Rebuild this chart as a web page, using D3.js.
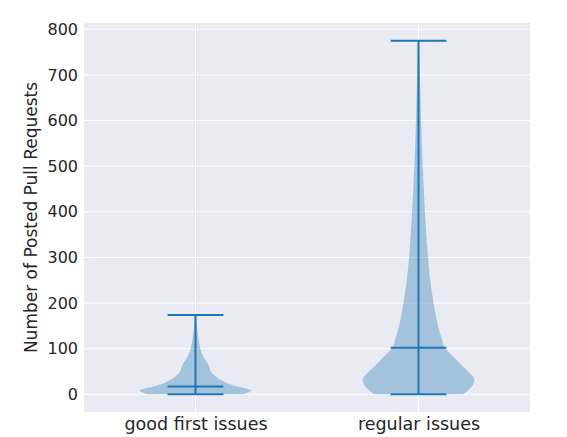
<!DOCTYPE html>
<html><head><meta charset="utf-8">
<script src="https://cdn.jsdelivr.net/npm/d3@7"></script>
<style>body{margin:0;background:#fff;} svg{display:block;}</style>
</head><body>
<svg id="chart" width="567" height="437"></svg>
<script>
const categories = ["good first issues", "regular issues"];
const yTicks = [0, 100, 200, 300, 400, 500, 600, 700, 800];
const yLabel = "Number of Posted Pull Requests";
// summary stats: min, median, max
const mins = [0, 0];
const medians = [17, 102];
const maxs = [174, 775];
// violin density profiles (value, relative half-width)
const goodFirstValues = [0, 5, 9, 13, 17, 22, 27, 33, 40, 47, 55, 66, 77, 88, 99, 110, 121, 135, 150, 165, 174];
const goodFirstDensity = [0.84, 0.97, 1.0, 0.9, 0.75, 0.62, 0.52, 0.43, 0.35, 0.29, 0.26, 0.23, 0.17, 0.12, 0.09, 0.07, 0.054, 0.04, 0.025, 0.015, 0.01];
const regularValues = [0, 10, 20, 33, 45, 55, 65, 77, 90, 102, 120, 136, 160, 200, 250, 300, 350, 400, 500, 600, 700, 775];
const regularDensity = [0.8, 0.9, 0.97, 1.0, 0.93, 0.85, 0.76, 0.67, 0.56, 0.47, 0.42, 0.38, 0.33, 0.27, 0.21, 0.17, 0.14, 0.115, 0.075, 0.045, 0.025, 0.01];

const profiles = [
  goodFirstValues.map((v, i) => ({v, w: goodFirstDensity[i]})),
  regularValues.map((v, i) => ({v, w: regularDensity[i]}))
];

(function () {
const svg = d3.select("#chart");
const pLeft = 84, pRight = 530, pTop = 23, pBottom = 412;
const x = d3.scaleLinear().domain([0.5, 2.5]).range([pLeft, pRight]);
const y = d3.scaleLinear().domain([-38.75, 813.75]).range([pBottom, pTop]);
const halfW = 0.25; // in x data units (widths=0.5)
const capW = 0.125;
const txt = "#262626";

svg.append("rect").attr("x", pLeft).attr("y", pTop).attr("width", pRight - pLeft).attr("height", pBottom - pTop).attr("fill", "#eaeaf2");

// grid
svg.append("g").selectAll("line").data(yTicks).join("line")
  .attr("x1", pLeft).attr("x2", pRight)
  .attr("y1", d => y(d)).attr("y2", d => y(d))
  .attr("stroke", "#fff").attr("stroke-width", 1);
svg.append("g").selectAll("line").data([1, 2]).join("line")
  .attr("x1", d => x(d)).attr("x2", d => x(d))
  .attr("y1", pTop).attr("y2", pBottom)
  .attr("stroke", "#fff").attr("stroke-width", 1);

// axes
const yAxis = d3.axisLeft(y).tickValues(yTicks).tickSize(0).tickPadding(6);
const ya = svg.append("g").attr("transform", `translate(${pLeft},0)`).call(yAxis);
ya.select(".domain").remove();
ya.selectAll("text").attr("font-family", "DejaVu Sans").attr("font-size", 16).attr("fill", txt);

const xAxis = d3.axisBottom(x).tickValues([1, 2]).tickFormat((d, i) => categories[i]).tickSize(0).tickPadding(5.5);
const xa = svg.append("g").attr("transform", `translate(0,${pBottom})`).call(xAxis);
xa.select(".domain").remove();
xa.selectAll("text").attr("font-family", "DejaVu Sans").attr("font-size", 17.5).attr("fill", txt);

svg.append("text")
  .attr("transform", `translate(37,${(pTop + pBottom) / 2}) rotate(-90)`)
  .attr("text-anchor", "middle")
  .attr("font-family", "DejaVu Sans").attr("font-size", 17).attr("fill", txt)
  .text(yLabel);

// violins
profiles.forEach((prof, i) => {
  const pos = i + 1;
  const area = d3.area()
    .y(d => y(d.v))
    .x0(d => x(pos - d.w * halfW))
    .x1(d => x(pos + d.w * halfW))
    .curve(d3.curveMonotoneY);
  svg.append("path").datum(prof).attr("d", area)
    .attr("fill", "rgba(31,119,180,0.35)").attr("stroke", "none");
  const c = "#1f77b4";
  svg.append("line").attr("x1", x(pos)).attr("x2", x(pos)).attr("y1", y(mins[i])).attr("y2", y(maxs[i])).attr("stroke", c).attr("stroke-width", 2);
  [mins[i], medians[i], maxs[i]].forEach(v => {
    svg.append("line").attr("x1", x(pos - capW)).attr("x2", x(pos + capW)).attr("y1", y(v)).attr("y2", y(v)).attr("stroke", c).attr("stroke-width", 2);
  });
});
})();
</script>
</body></html>
